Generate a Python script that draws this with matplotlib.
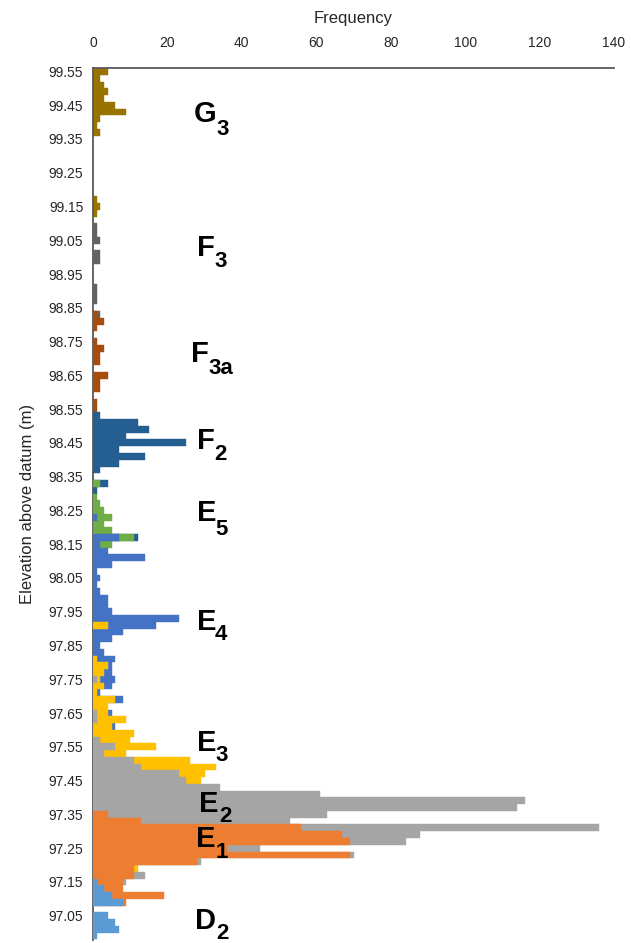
import matplotlib

matplotlib.use("Agg")
import matplotlib.pyplot as plt

plt.rcParams["font.family"] = ["Liberation Sans", "DejaVu Sans"]

# --- data: elevation bin centres (m) and counts per unit ---
g3_elev = [99.55, 99.53, 99.51, 99.49, 99.47, 99.45, 99.43, 99.41, 99.39, 99.37,
           99.17, 99.15, 99.13]
g3_freq = [4, 2, 3, 4, 3, 6, 9, 2, 1, 2, 1, 2, 1]

f3_elev = [99.09, 99.07, 99.05, 99.01, 98.99, 98.91, 98.89, 98.87, 98.83]
f3_freq = [1, 1, 2, 2, 2, 1, 1, 1, 2]

f3a_elev = [98.83, 98.81, 98.79, 98.75, 98.73, 98.71, 98.69, 98.65, 98.63, 98.61,
            98.57, 98.55]
f3a_freq = [1, 3, 1, 1, 3, 2, 2, 4, 2, 2, 1, 1]

f2_elev = [98.53, 98.51, 98.49, 98.47, 98.45, 98.43, 98.41, 98.39, 98.37, 98.33,
           98.31, 98.17]
f2_freq = [2, 12, 15, 9, 25, 7, 14, 7, 2, 4, 1, 12]

e5_elev = [98.33, 98.29, 98.27, 98.25, 98.23, 98.21, 98.19, 98.17, 98.15]
e5_freq = [2, 1, 2, 3, 5, 3, 5, 11, 5]

e4_elev = [98.23, 98.17, 98.15, 98.13, 98.11, 98.09, 98.07, 98.05, 98.03, 98.01,
           97.99, 97.97, 97.95, 97.93, 97.91, 97.89, 97.87, 97.85, 97.83, 97.81,
           97.79, 97.77, 97.75, 97.73, 97.71, 97.69, 97.65, 97.61]
e4_freq = [1, 7, 2, 4, 14, 5, 1, 2, 1, 2,
           4, 4, 5, 23, 17, 8, 5, 2, 3, 6,
           5, 5, 6, 5, 2, 8, 5, 6]

e3_elev = [97.91, 97.81, 97.79, 97.77, 97.75, 97.73, 97.71, 97.69, 97.67, 97.65,
           97.63, 97.61, 97.59, 97.57, 97.55, 97.53, 97.51, 97.49, 97.47, 97.45,
           97.19]
e3_freq = [4, 1, 4, 3, 2, 3, 1, 6, 4, 4,
           9, 5, 11, 10, 17, 9, 26, 33, 30, 29,
           12]

e2_elev = [97.75, 97.65, 97.63, 97.57, 97.55, 97.53, 97.51, 97.49, 97.47, 97.45,
           97.43, 97.41, 97.39, 97.37, 97.35, 97.33, 97.31, 97.29, 97.27, 97.25,
           97.23, 97.21, 97.19, 97.17, 97.15]
e2_freq = [1, 1, 1, 2, 6, 3, 11, 13, 23, 25,
           34, 61, 116, 114, 63, 53, 136, 88, 84, 45,
           70, 29, 10, 14, 9]

e1_elev = [97.35, 97.33, 97.31, 97.29, 97.27, 97.25, 97.23, 97.21, 97.19, 97.17,
           97.15, 97.13, 97.11, 97.09]
e1_freq = [4, 13, 56, 67, 69, 36, 69, 28, 11, 11, 8, 8, 19, 9]

d2_elev = [97.15, 97.13, 97.11, 97.09, 97.05, 97.03, 97.01, 96.99]
d2_freq = [1, 3, 5, 8, 4, 6, 7, 1]

# drawn top unit first so that lower units sit on top
series = [
    ("G3", g3_elev, g3_freq, "#997300"),
    ("F3", f3_elev, f3_freq, "#636363"),
    ("F3a", f3a_elev, f3a_freq, "#A84C0E"),
    ("F2", f2_elev, f2_freq, "#255E91"),
    ("E5", e5_elev, e5_freq, "#70AD47"),
    ("E4", e4_elev, e4_freq, "#4472C4"),
    ("E3", e3_elev, e3_freq, "#FFC000"),
    ("E2", e2_elev, e2_freq, "#A5A5A5"),
    ("E1", e1_elev, e1_freq, "#ED7D31"),
    ("D2", d2_elev, d2_freq, "#5B9BD5"),
]

y_ticks = [99.55, 99.45, 99.35, 99.25, 99.15, 99.05, 98.95, 98.85, 98.75, 98.65,
           98.55, 98.45, 98.35, 98.25, 98.15, 98.05, 97.95, 97.85, 97.75, 97.65,
           97.55, 97.45, 97.35, 97.25, 97.15, 97.05]
x_ticks = [0, 20, 40, 60, 80, 100, 120, 140]

# unit labels: (letter, subscript, letter pos, subscript pos)
unit_labels = [
    ("G", "3", (27.1, 99.399), (33.2, 99.363)),
    ("F", "3", (27.9, 99.002), (32.5, 98.972)),
    ("F", "3a", (26.3, 98.688), (30.9, 98.655)),
    ("F", "2", (27.9, 98.433), (32.5, 98.398)),
    ("E", "5", (27.9, 98.220), (32.8, 98.176)),
    ("E", "4", (27.9, 97.897), (32.8, 97.865)),
    ("E", "3", (27.9, 97.539), (32.8, 97.509)),
    ("E", "2", (28.6, 97.356), (33.9, 97.326)),
    ("E", "1", (27.7, 97.254), (33.0, 97.222)),
    ("D", "2", (27.4, 97.011), (33.2, 96.982)),
]

fig = plt.figure(figsize=(6.31, 9.43), dpi=100)
ax = fig.add_axes([93 / 631, 3 / 943, 521 / 631, 872 / 943])

for z, (name, elev, freq, color) in enumerate(series):
    ax.barh(elev, freq, height=0.02, color=color, edgecolor=color,
            linewidth=0.3, zorder=2 + z, label=name)

ax.set_xlim(0, 140)
ax.set_ylim(96.978, 99.56)
ax.set_xticks(x_ticks)
ax.set_yticks(y_ticks)
ax.set_yticklabels([f"{v:.2f}" for v in y_ticks])
ax.xaxis.tick_top()
ax.xaxis.set_label_position("top")
ax.tick_params(length=0, labelsize=10, labelcolor="#262626")
ax.tick_params(axis="x", pad=13)
ax.tick_params(axis="y", pad=7)
ax.set_xlabel("Frequency", fontsize=12, color="#262626", labelpad=9)
ax.set_ylabel("Elevation above datum (m)", fontsize=12, color="#262626", labelpad=10)

for side in ("right", "bottom"):
    ax.spines[side].set_visible(False)
for side in ("left", "top"):
    ax.spines[side].set_color("#595959")
    ax.spines[side].set_linewidth(1.3)

for letter, sub, (lx, ly), (sx, sy) in unit_labels:
    ax.text(lx, ly, letter, fontsize=21, fontweight="bold", ha="left",
            va="baseline", zorder=20)
    ax.text(sx, sy, sub, fontsize=16, fontweight="bold", ha="left",
            va="baseline", zorder=20)

fig.savefig("out.png", dpi=100)
plt.close(fig)
